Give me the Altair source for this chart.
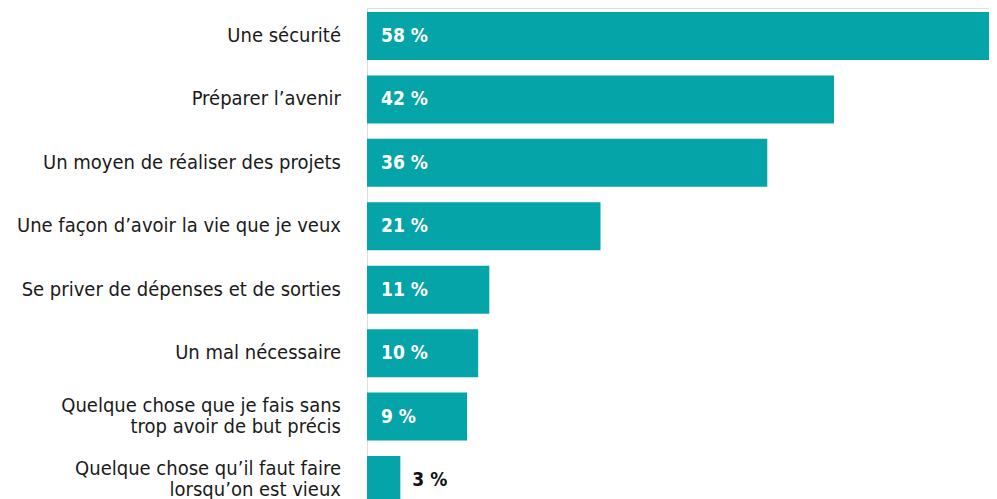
import altair as alt
import pandas as pd

categories = [
    "Une sécurité",
    "Préparer l’avenir",
    "Un moyen de réaliser des projets",
    "Une façon d’avoir la vie que je veux",
    "Se priver de dépenses et de sorties",
    "Un mal nécessaire",
    "Quelque chose que je fais sans\ntrop avoir de but précis",
    "Quelque chose qu’il faut faire\nlorsqu’on est vieux",
]
values = [58, 42, 36, 21, 11, 10, 9, 3]

df = pd.DataFrame({"cat": categories, "val": values})
df["lab"] = [f"{v} %" for v in values]

FONT = "DejaVu Sans Condensed, Liberation Sans Narrow, Roboto"
TEAL = "#04a4a8"

y = alt.Y(
    "cat:N",
    sort=categories,
    axis=None,
    scale=alt.Scale(range=[0, 500], paddingInner=0.2433, paddingOuter=0.063),
)
x = alt.X("val:Q", axis=None, scale=alt.Scale(domain=[0, 55.94], nice=False, zero=True))

base = alt.Chart(df)

bars = base.mark_bar(color=TEAL, clip=True).encode(x=x, y=y)

label_style = dict(
    align="right", baseline="middle", font=FONT, fontSize=20, color="#1a1a1a",
    lineBreak="\n", lineHeight=21,
)

single_labels = base.transform_filter("indexof(datum.cat, '\\n') < 0").mark_text(
    **label_style
).encode(y=y, x=alt.value(-26), text="cat:N")

multi_labels = base.transform_filter("indexof(datum.cat, '\\n') >= 0").mark_text(
    dy=-11, **label_style
).encode(y=y, x=alt.value(-26), text="cat:N")

inside = base.transform_filter("datum.val >= 5").mark_text(
    align="left", baseline="middle", font=FONT, fontSize=19, fontWeight="bold", color="white",
).encode(y=y, x=alt.value(14), text="lab:N")

outside = base.transform_filter("datum.val < 5").mark_text(
    align="left", baseline="middle", font=FONT, fontSize=19, fontWeight="bold", color="#111111", dx=12,
).encode(y=y, x=x, text="lab:N")

chart = (
    alt.layer(bars, single_labels, multi_labels, inside, outside)
    .properties(
        width=622,
        height=491,
        autosize=alt.AutoSizeParams(type="none"),
        padding={"left": 359, "top": 0, "right": 0, "bottom": 0},
    )
    .configure_view(strokeWidth=0, stroke="transparent")
    .configure(background="white")
)

chart.save("out.html", embed_options={"renderer": "svg", "actions": False})
